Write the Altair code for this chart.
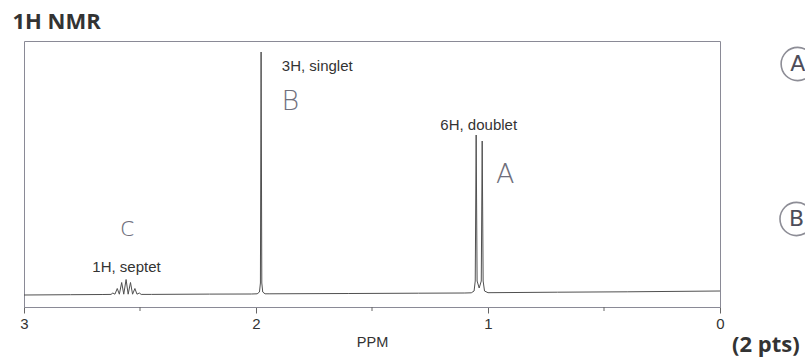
import altair as alt
import pandas as pd

# ---- spectrum trace (ppm, intensity; 1 unit ~ 1 px) ----
spec_ppm = [3.000, 2.800, 2.660, 2.625, 2.617, 2.608, 2.598, 2.589, 2.579, 2.570,
            2.560, 2.551, 2.541, 2.532, 2.522, 2.513, 2.503, 2.495, 2.450, 2.200,
            2.020, 1.995, 1.985, 1.981, 1.978, 1.975, 1.971, 1.961, 1.940, 1.600,
            1.300, 1.100, 1.072, 1.060, 1.055, 1.051, 1.047, 1.038, 1.029, 1.025,
            1.021, 1.015, 1.000, 0.700, 0.400, 0.000]
spec_int = [0.0, 0.3, 0.5, 0.6, 2.0, 0.8, 6.5, 0.8, 12.5, 0.8,
            15.5, 0.8, 12.5, 0.8, 6.5, 0.8, 2.0, 0.6, 0.6, 0.9,
            1.0, 1.2, 3.0, 12.0, 243.0, 12.0, 3.0, 1.2, 1.2, 1.5,
            1.8, 2.0, 2.2, 4.0, 14.0, 160.0, 14.0, 7.0, 14.0, 154.0,
            14.0, 4.0, 2.3, 2.8, 3.2, 4.0]

# ---- axis ticks ----
major_ticks = [3, 2, 1, 0]
minor_ticks = [2.5, 1.5, 0.5]

# ---- printed annotations ----
label_ppm = [2.558, 1.736, 1.040]
label_int = [28, 229, 170]
label_text = ["1H, septet", "3H, singlet", "6H, doublet"]

# ---- handwritten letters ----
hand_ppm = [1.852, 0.926]
hand_int = [193, 120]
hand_text = ["B", "A"]
hand_small_ppm = [2.554]
hand_small_int = [67]
hand_small_text = ["c"]

circ_ppm = [-0.335, -0.330]
circ_int = [231, 76]
circ_text = ["A", "B"]

# ---- headings ----
head_ppm = [3.050, -0.052]
head_int = [273, -50]
head_text = ["1H NMR", "(2 pts)"]

spec = pd.DataFrame({"ppm": spec_ppm, "intensity": spec_int})
minor = pd.DataFrame({"ppm": minor_ticks})
labels = pd.DataFrame({"ppm": label_ppm, "intensity": label_int, "text": label_text})
hand = pd.DataFrame({"ppm": hand_ppm, "intensity": hand_int, "text": hand_text})
hand_s = pd.DataFrame({"ppm": hand_small_ppm, "intensity": hand_small_int, "text": hand_small_text})
circ = pd.DataFrame({"ppm": circ_ppm, "intensity": circ_int, "text": circ_text})
head = pd.DataFrame({"ppm": head_ppm, "intensity": head_int, "text": head_text})

xs = alt.Scale(domain=[3, 0], nice=False, zero=False)
ys = alt.Scale(domain=[-12, 254], nice=False, zero=False)
xaxis = alt.Axis(values=major_ticks, format="d", title="PPM", grid=False,
                 domainColor="#8a8a96", tickColor="#666666", tickSize=6,
                 labelFont="Liberation Sans", labelFontSize=15, labelColor="#333333",
                 labelPadding=3, labelFlush=False,
                 titleFont="Liberation Sans", titleFontSize=14.5, titleFontWeight="normal",
                 titleColor="#333333", titlePadding=4)
X = alt.X("ppm:Q", scale=xs, axis=xaxis)
Y = alt.Y("intensity:Q", scale=ys, axis=None)

line = alt.Chart(spec).mark_line(color="#505050", strokeWidth=1).encode(x=X, y=Y)

minor_rule = alt.Chart(minor).mark_rule(color="#666666", strokeWidth=1).encode(
    x=X, y=alt.value(266), y2=alt.value(270))

printed = alt.Chart(labels).mark_text(font="Liberation Sans", fontSize=15,
                                      color="#333333", baseline="middle").encode(
    x=X, y=Y, text="text:N")

handw = alt.Chart(hand).mark_text(font="DejaVu Sans", fontSize=27, fontWeight=300,
                                  color="#6f6f7c", baseline="middle").encode(
    x=X, y=Y, text="text:N")
handw_s = alt.Chart(hand_s).mark_text(font="DejaVu Sans", fontSize=27, fontWeight=300,
                                      color="#6f6f7c", baseline="middle").encode(
    x=X, y=Y, text="text:N")

circ_pts = alt.Chart(circ).mark_point(shape="circle", filled=False, size=1100,
                                      color="#5d5d6a", strokeWidth=1.6).encode(x=X, y=Y)
circ_txt = alt.Chart(circ).mark_text(font="DejaVu Sans", fontSize=22, color="#4d4d5a",
                                     baseline="middle").encode(x=X, y=Y, text="text:N")

heading = alt.Chart(head).mark_text(font="Open Sans", fontSize=22, fontWeight="bold",
                                    color="#333333", align="left", baseline="middle").encode(
    x=X, y=Y, text="text:N")

chart = alt.layer(line, minor_rule, printed, handw, handw_s, circ_pts, circ_txt, heading).properties(
    width=696, height=266,
    autosize=alt.AutoSizeParams(type="none"),
    padding={"left": 24, "top": 41, "right": 85, "bottom": 51},
    background="white",
).configure_view(stroke="#8a8a96", strokeWidth=1)

chart.save("out.html", embed_options={"renderer": "svg", "actions": False})
